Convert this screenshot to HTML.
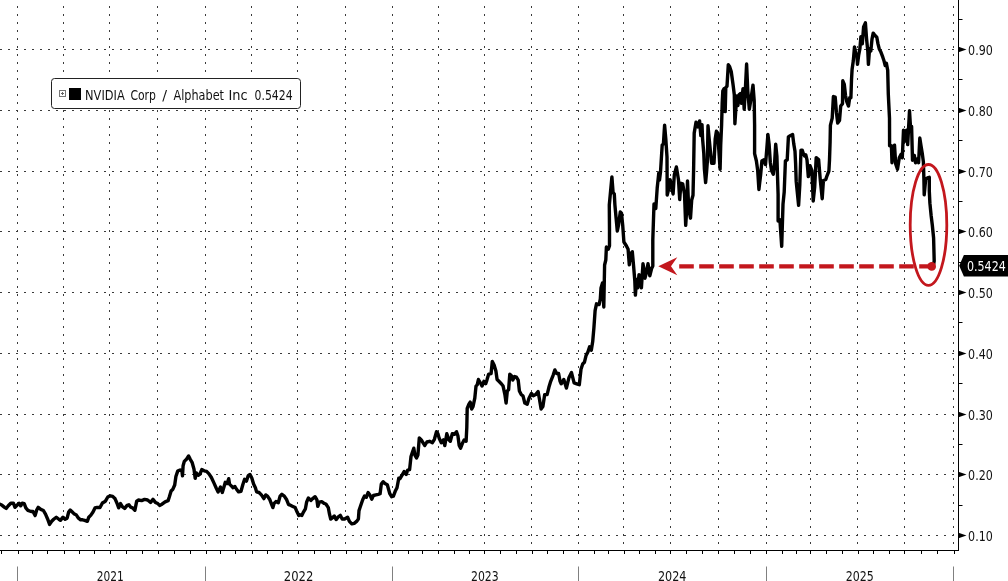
<!DOCTYPE html><html><head><meta charset="utf-8"><title>NVIDIA Corp / Alphabet Inc</title><style>
html,body{margin:0;padding:0;background:#fff;}body{width:1008px;height:581px;overflow:hidden;position:relative;}
svg{position:absolute;left:0;top:0;display:block;}
text{font-family:"DejaVu Sans","Liberation Sans",sans-serif;font-stretch:condensed;}
</style></head><body>
<svg width="1008" height="581" viewBox="0 0 1008 581">
<rect width="1008" height="581" fill="#fff"/>
<g stroke="#3a3a3a" stroke-width="1" fill="none"><line x1="17.5" y1="0" x2="17.5" y2="550" stroke-dasharray="2 6" stroke-dashoffset="2"/><line x1="63.5" y1="0" x2="63.5" y2="550" stroke-dasharray="2 6" stroke-dashoffset="2"/><line x1="109.5" y1="0" x2="109.5" y2="550" stroke-dasharray="2 6" stroke-dashoffset="2"/><line x1="157.5" y1="0" x2="157.5" y2="550" stroke-dasharray="2 6" stroke-dashoffset="2"/><line x1="205.5" y1="0" x2="205.5" y2="550" stroke-dasharray="2 6" stroke-dashoffset="2"/><line x1="251.5" y1="0" x2="251.5" y2="550" stroke-dasharray="2 6" stroke-dashoffset="2"/><line x1="297.5" y1="0" x2="297.5" y2="550" stroke-dasharray="2 6" stroke-dashoffset="2"/><line x1="345.5" y1="0" x2="345.5" y2="550" stroke-dasharray="2 6" stroke-dashoffset="2"/><line x1="392.5" y1="0" x2="392.5" y2="550" stroke-dasharray="2 6" stroke-dashoffset="2"/><line x1="438.5" y1="0" x2="438.5" y2="550" stroke-dasharray="2 6" stroke-dashoffset="2"/><line x1="484.5" y1="0" x2="484.5" y2="550" stroke-dasharray="2 6" stroke-dashoffset="2"/><line x1="531.5" y1="0" x2="531.5" y2="550" stroke-dasharray="2 6" stroke-dashoffset="2"/><line x1="578.5" y1="0" x2="578.5" y2="550" stroke-dasharray="2 6" stroke-dashoffset="2"/><line x1="623.5" y1="0" x2="623.5" y2="550" stroke-dasharray="2 6" stroke-dashoffset="2"/><line x1="670.5" y1="0" x2="670.5" y2="550" stroke-dasharray="2 6" stroke-dashoffset="2"/><line x1="718.5" y1="0" x2="718.5" y2="550" stroke-dasharray="2 6" stroke-dashoffset="2"/><line x1="766.5" y1="0" x2="766.5" y2="550" stroke-dasharray="2 6" stroke-dashoffset="2"/><line x1="810.5" y1="0" x2="810.5" y2="550" stroke-dasharray="2 6" stroke-dashoffset="2"/><line x1="857.5" y1="0" x2="857.5" y2="550" stroke-dasharray="2 6" stroke-dashoffset="2"/><line x1="904.5" y1="0" x2="904.5" y2="550" stroke-dasharray="2 6" stroke-dashoffset="2"/><line x1="953.5" y1="0" x2="953.5" y2="550" stroke-dasharray="2 6" stroke-dashoffset="2"/></g>
<g stroke="#3a3a3a" stroke-width="1" fill="none"><line x1="0" y1="49.5" x2="958" y2="49.5" stroke-dasharray="2 6"/><line x1="0" y1="110.5" x2="958" y2="110.5" stroke-dasharray="2 6"/><line x1="0" y1="171.5" x2="958" y2="171.5" stroke-dasharray="2 6"/><line x1="0" y1="231.5" x2="958" y2="231.5" stroke-dasharray="2 6"/><line x1="0" y1="292.5" x2="958" y2="292.5" stroke-dasharray="2 6"/><line x1="0" y1="353.5" x2="958" y2="353.5" stroke-dasharray="2 6"/><line x1="0" y1="414.5" x2="958" y2="414.5" stroke-dasharray="2 6"/><line x1="0" y1="474.5" x2="958" y2="474.5" stroke-dasharray="2 6"/><line x1="0" y1="535.5" x2="958" y2="535.5" stroke-dasharray="2 6"/></g>
<path d="M1.5 551V554M18.5 551V554M32.5 551V554M47.5 551V554M64.5 551V554M79.5 551V554M94.5 551V554M110.5 551V554M126.5 551V554M142.5 551V554M158.5 551V554M174.5 551V554M190.5 551V554M206.5 551V554M220.5 551V554M235.5 551V554M252.5 551V554M267.5 551V554M282.5 551V554M298.5 551V554M314.5 551V554M330.5 551V554M346.5 551V554M361.5 551V554M377.5 551V554M392.5 551V554M408.5 551V554M422.5 551V554M438.5 551V554M454.5 551V554M469.5 551V554M484.5 551V554M500.5 551V554M516.5 551V554M532.5 551V554M547.5 551V554M563.5 551V554M578.5 551V554M594.5 551V554M608.5 551V554M624.5 551V554M639.5 551V554M655.5 551V554M670.5 551V554M686.5 551V554M702.5 551V554M718.5 551V554M734.5 551V554M750.5 551V554M766.5 551V554M782.5 551V554M796.5 551V554M810.5 551V554M826.5 551V554M842.5 551V554M858.5 551V554M873.5 551V554M889.5 551V554M904.5 551V554M921.5 551V554M937.5 551V554M954.5 551V554" stroke="#000" stroke-width="1" fill="none"/>
<g stroke="#808080" stroke-width="1"><line x1="17.5" y1="566.5" x2="17.5" y2="581"/><line x1="205.5" y1="566.5" x2="205.5" y2="581"/><line x1="392.5" y1="566.5" x2="392.5" y2="581"/><line x1="578.5" y1="566.5" x2="578.5" y2="581"/><line x1="766.5" y1="566.5" x2="766.5" y2="581"/><line x1="953.5" y1="566.5" x2="953.5" y2="581"/></g>
<g font-size="13.7" fill="#111"><text x="96.74" y="581.2" textLength="26.96" lengthAdjust="spacingAndGlyphs">2021</text><text x="283.86" y="581.2" textLength="29.51" lengthAdjust="spacingAndGlyphs">2022</text><text x="471.02" y="581.2" textLength="27.69" lengthAdjust="spacingAndGlyphs">2023</text><text x="657.99" y="581.2" textLength="28.52" lengthAdjust="spacingAndGlyphs">2024</text><text x="845.81" y="581.2" textLength="28.0" lengthAdjust="spacingAndGlyphs">2025</text></g>
<path d="M958.5 0V551.0M0 550.5H959.0" stroke="#000" stroke-width="1" fill="none"/>
<path d="M958.5 532.7L966.5 535.5L958.5 538.3ZM958.5 471.7L966.5 474.5L958.5 477.3ZM958.5 411.7L966.5 414.5L958.5 417.3ZM958.5 350.7L966.5 353.5L958.5 356.3ZM958.5 289.7L966.5 292.5L958.5 295.3ZM958.5 228.7L966.5 231.5L958.5 234.3ZM958.5 168.7L966.5 171.5L958.5 174.3ZM958.5 107.7L966.5 110.5L958.5 113.3ZM958.5 46.7L966.5 49.5L958.5 52.3Z" fill="#000"/>
<path d="M959 505.5H962.5M959 444.5H962.5M959 383.5H962.5M959 322.5H962.5M959 262.5H962.5M959 201.5H962.5M959 140.5H962.5M959 79.5H962.5M959 19.5H962.5" stroke="#000" stroke-width="1"/>
<g font-size="13.7" fill="#111"><text x="968.1" y="541.1" textLength="24.7" lengthAdjust="spacingAndGlyphs">0.10</text><text x="968.1" y="480.1" textLength="24.7" lengthAdjust="spacingAndGlyphs">0.20</text><text x="968.1" y="420.1" textLength="24.7" lengthAdjust="spacingAndGlyphs">0.30</text><text x="968.1" y="359.1" textLength="24.7" lengthAdjust="spacingAndGlyphs">0.40</text><text x="968.1" y="298.1" textLength="24.7" lengthAdjust="spacingAndGlyphs">0.50</text><text x="968.1" y="237.1" textLength="24.7" lengthAdjust="spacingAndGlyphs">0.60</text><text x="968.1" y="177.1" textLength="24.7" lengthAdjust="spacingAndGlyphs">0.70</text><text x="968.1" y="116.1" textLength="24.7" lengthAdjust="spacingAndGlyphs">0.80</text><text x="968.1" y="55.1" textLength="24.7" lengthAdjust="spacingAndGlyphs">0.90</text></g>
<path d="M0.0 504.2 L2.1 505.3 L4.6 507.3 L6.2 508.4 L8.3 505.8 L10.8 503.2 L13.4 503.2 L15.0 507.3 L17.0 505.3 L19.1 503.2 L20.7 505.8 L22.2 503.2 L24.3 503.7 L25.8 507.9 L27.9 510.4 L31.0 511.5 L33.0 511.5 L35.1 515.6 L36.7 510.0 L38.2 507.4 L40.8 509.4 L43.4 510.5 L45.5 514.1 L47.5 518.7 L49.6 524.4 L51.7 521.3 L53.7 519.3 L56.3 517.2 L58.9 519.3 L60.4 520.3 L63.0 517.2 L65.1 519.3 L67.1 518.2 L68.7 512.0 L70.2 510.0 L72.3 512.0 L74.4 514.1 L76.4 515.1 L78.5 518.2 L80.6 519.8 L82.6 519.8 L84.7 520.3 L87.3 521.3 L88.8 517.2 L90.9 515.1 L93.0 512.0 L95.0 507.9 L97.1 507.4 L100.0 507.5 L102.4 503.0 L105.4 501.2 L107.8 497.0 L110.2 495.8 L112.7 496.4 L115.1 498.8 L116.9 503.0 L118.7 507.8 L120.5 503.6 L122.3 506.6 L124.7 508.4 L127.1 505.4 L128.9 504.8 L130.7 507.2 L132.5 507.8 L134.9 510.2 L136.7 501.2 L138.6 500.0 L141.6 500.6 L144.6 499.4 L147.6 500.0 L150.6 502.4 L153.0 499.4 L155.4 502.4 L157.8 503.6 L159.6 505.4 L162.0 504.2 L165.1 501.8 L168.1 500.6 L169.3 497.0 L171.1 491.0 L172.9 489.2 L174.7 485.0 L175.9 476.5 L177.7 471.1 L180.1 469.9 L181.9 471.1 L182.5 475.9 L183.1 465.7 L184.3 461.4 L186.7 459.0 L188.6 456.0 L190.4 459.6 L192.2 462.7 L194.0 469.3 L195.2 478.3 L196.4 472.9 L198.2 475.3 L200.0 474.0 L201.8 469.6 L204.2 470.8 L206.6 471.4 L209.0 473.9 L211.4 477.5 L213.9 482.9 L216.3 488.3 L218.1 491.9 L220.5 487.1 L222.3 492.5 L224.1 486.5 L225.3 482.3 L227.1 483.5 L228.7 478.7 L229.5 484.1 L231.3 485.9 L233.1 487.7 L234.9 486.5 L236.7 489.5 L238.6 491.9 L241.0 491.3 L242.8 484.7 L244.6 479.3 L246.4 481.1 L248.2 475.7 L250.0 474.5 L251.8 478.1 L253.6 484.1 L255.4 487.7 L256.6 491.9 L259.0 492.5 L261.4 494.9 L263.9 498.6 L265.7 494.9 L267.5 496.1 L269.9 499.8 L271.7 504.6 L272.9 507.6 L274.1 503.4 L275.9 501.6 L278.3 502.8 L280.1 496.1 L281.9 494.3 L284.3 496.1 L286.7 499.8 L288.6 504.6 L290.4 505.2 L292.8 506.4 L295.2 507.6 L297.0 511.8 L298.8 515.4 L300.0 514.8 L301.8 515.4 L303.6 511.8 L305.4 508.8 L306.6 502.2 L308.4 498.0 L310.8 500.4 L312.7 498.6 L315.1 496.7 L316.9 499.8 L317.8 506.4 L319.3 502.2 L321.7 501.6 L324.1 503.4 L325.9 504.0 L328.3 507.6 L329.5 514.2 L330.7 519.0 L332.5 517.8 L334.3 516.0 L336.1 519.6 L338.0 517.2 L340.4 515.4 L342.2 519.0 L344.6 519.0 L347.6 517.2 L349.4 521.4 L351.8 523.9 L354.2 523.3 L356.6 521.4 L358.4 519.0 L359.0 510.6 L360.8 505.2 L362.7 499.8 L364.5 496.1 L366.3 497.3 L368.1 492.5 L369.9 494.9 L371.7 499.2 L373.5 495.5 L375.9 494.9 L378.3 494.3 L380.1 493.7 L381.3 484.1 L383.1 481.7 L384.9 483.5 L387.3 484.7 L389.8 493.7 L391.6 496.7 L393.4 496.1 L395.2 491.3 L397.0 487.7 L398.8 478.1 L400.0 478.5 L402.1 475.1 L404.1 471.6 L406.2 474.4 L407.6 470.2 L409.6 469.6 L411.0 456.5 L412.4 452.3 L413.8 448.2 L414.9 455.1 L416.5 457.9 L417.9 455.1 L419.3 437.9 L421.3 439.9 L423.4 443.4 L424.8 445.5 L426.9 442.0 L429.6 441.3 L432.4 442.7 L434.4 439.3 L436.5 431.7 L437.9 433.7 L439.3 438.6 L441.3 442.7 L443.4 439.9 L444.8 445.5 L446.8 433.7 L448.9 439.9 L450.3 441.3 L452.3 433.7 L454.4 434.4 L456.5 431.7 L457.9 435.8 L459.2 445.5 L460.6 448.2 L462.7 442.7 L464.1 439.9 L466.1 441.3 L466.8 427.5 L467.2 408.3 L468.9 404.1 L470.2 402.1 L471.6 409.0 L473.0 406.7 L474.8 398.2 L476.0 386.1 L477.2 384.9 L478.4 379.5 L480.2 382.5 L482.0 386.1 L483.9 381.3 L485.7 383.7 L486.9 380.1 L488.7 374.1 L491.1 373.5 L492.3 361.4 L494.1 365.1 L495.9 371.1 L497.1 379.5 L498.9 381.3 L501.3 383.7 L503.1 386.1 L504.9 394.6 L506.1 403.0 L507.3 391.0 L508.6 389.8 L509.8 374.1 L511.6 375.9 L512.8 380.1 L514.6 376.5 L516.4 377.1 L518.2 380.1 L519.4 391.0 L521.2 394.6 L523.0 395.8 L524.8 403.0 L527.2 404.2 L529.0 398.2 L531.4 393.4 L533.3 395.8 L535.7 394.6 L538.1 391.6 L539.3 398.2 L541.1 409.0 L542.9 406.6 L544.7 394.6 L547.1 394.6 L548.9 387.3 L550.7 381.3 L553.1 375.3 L554.9 369.9 L556.7 373.5 L558.6 373.5 L560.0 381.0 L561.2 383.8 L563.8 379.5 L566.4 388.1 L568.9 377.8 L571.5 372.6 L574.1 382.9 L576.7 383.8 L579.3 384.7 L581.0 369.2 L582.7 364.0 L584.4 362.3 L586.1 355.4 L587.9 352.0 L589.6 346.8 L591.3 350.2 L592.7 341.6 L593.9 327.9 L595.1 310.7 L596.5 303.8 L599.1 304.6 L600.3 299.0 L601.0 288.0 L602.5 283.0 L603.8 307.0 L604.6 265.0 L605.8 260.0 L606.4 247.0 L608.3 249.3 L609.5 245.7 L609.5 230.0 L609.3 205.0 L611.9 177.0 L613.1 192.7 L614.3 193.9 L614.9 204.8 L616.1 218.0 L617.3 231.0 L618.5 225.2 L620.3 212.0 L621.5 213.2 L622.7 225.2 L623.9 242.0 L626.3 245.7 L628.1 249.3 L629.3 264.9 L630.5 254.1 L632.3 251.7 L633.6 266.1 L634.8 280.6 L635.4 295.1 L636.6 279.4 L637.8 287.8 L639.0 274.6 L640.2 275.8 L641.4 287.8 L643.0 263.7 L644.4 272.2 L645.0 278.2 L646.2 273.4 L648.0 263.7 L649.8 275.8 L651.6 268.6 L652.8 266.0 L652.8 240.0 L654.0 204.0 L655.8 208.5 L657.2 188.0 L658.8 173.0 L659.5 180.0 L660.5 172.0 L662.2 145.0 L663.4 144.0 L664.6 125.2 L665.8 139.0 L667.0 157.0 L667.2 195.0 L668.9 188.0 L670.1 179.6 L671.9 188.0 L673.1 194.0 L674.3 175.0 L676.4 167.0 L678.5 180.0 L679.7 199.5 L680.9 183.3 L682.7 183.9 L684.5 194.0 L685.7 225.4 L686.9 206.0 L687.5 181.0 L688.7 208.6 L690.5 218.2 L691.7 200.0 L693.0 195.3 L693.6 170.0 L694.2 133.1 L696.0 122.2 L697.8 127.0 L699.6 121.0 L700.8 135.5 L702.0 124.6 L702.6 139.1 L703.8 153.6 L704.4 169.2 L705.6 182.5 L706.6 171.6 L707.4 160.8 L708.0 125.8 L709.2 139.1 L710.4 151.1 L711.6 163.2 L714.0 163.2 L715.2 139.1 L716.4 131.3 L717.7 133.1 L718.9 151.1 L720.1 169.2 L720.7 145.1 L721.6 125.0 L722.2 103.2 L722.8 91.1 L724.0 88.7 L725.2 111.6 L725.8 87.5 L727.0 86.3 L728.3 64.6 L729.5 66.4 L731.3 71.9 L733.1 85.1 L734.3 94.8 L734.9 123.7 L736.7 96.0 L737.9 105.6 L739.1 94.8 L740.3 93.6 L741.5 103.2 L743.0 88.7 L744.2 109.2 L745.4 88.7 L746.6 64.0 L747.8 91.1 L749.3 109.2 L750.9 99.6 L753.0 85.1 L754.2 100.8 L754.6 125.0 L754.6 153.7 L756.4 161.0 L757.7 170.6 L758.9 189.5 L760.7 174.2 L761.9 161.0 L763.7 159.8 L765.5 164.6 L766.7 150.1 L767.9 134.5 L769.1 144.1 L770.3 162.2 L771.5 170.6 L773.3 174.2 L774.5 164.6 L775.7 144.1 L776.9 156.1 L777.8 185.0 L778.1 194.5 L778.1 221.0 L779.9 219.8 L781.7 246.3 L783.0 204.1 L784.2 192.0 L785.4 161.0 L787.2 159.8 L788.4 136.9 L790.2 135.7 L792.6 134.5 L793.8 144.1 L795.0 151.3 L795.6 163.4 L796.2 181.4 L798.6 205.3 L799.8 185.0 L801.0 150.1 L802.2 150.1 L803.4 153.7 L804.6 156.1 L805.8 154.9 L807.0 159.8 L808.3 176.6 L810.1 165.8 L811.9 170.6 L813.2 201.0 L814.7 186.7 L816.2 157.7 L818.6 159.5 L820.3 180.2 L822.2 198.7 L823.4 180.6 L825.8 179.4 L827.0 175.8 L828.9 171.0 L829.5 160.1 L830.1 142.0 L830.4 125.4 L832.2 118.2 L833.4 96.5 L835.2 97.1 L836.4 112.2 L837.7 123.0 L839.5 120.6 L840.7 106.1 L842.5 103.7 L842.8 80.8 L844.3 84.5 L845.5 95.3 L846.7 101.3 L848.5 106.1 L849.7 97.7 L850.9 97.7 L851.5 80.0 L852.1 69.2 L853.3 60.8 L854.5 46.9 L855.7 53.6 L856.9 54.8 L857.5 64.4 L858.7 54.8 L859.9 48.7 L860.9 36.7 L862.3 43.9 L863.6 27.0 L865.4 22.8 L866.6 39.1 L867.8 51.1 L868.4 64.4 L869.6 48.7 L870.8 51.1 L872.0 39.1 L873.2 33.1 L875.0 35.5 L876.8 37.3 L878.0 43.9 L879.2 48.7 L881.0 52.3 L882.8 57.2 L884.0 60.8 L885.2 65.6 L886.4 63.2 L887.7 70.4 L888.3 94.1 L889.5 118.2 L889.6 145.8 L891.4 145.8 L892.0 162.7 L893.3 148.2 L894.5 145.2 L895.7 163.9 L897.5 169.3 L899.3 157.8 L901.1 154.2 L902.3 157.8 L903.5 130.1 L905.3 141.0 L906.5 130.1 L907.7 144.6 L909.5 110.8 L910.7 130.1 L911.6 126.5 L912.5 160.2 L914.3 155.4 L915.5 162.7 L917.3 159.0 L918.6 162.7 L919.8 138.0 L921.0 145.8 L922.2 153.0 L923.4 162.0 L923.9 179.1 L924.2 194.8 L925.7 179.1 L927.5 177.9 L929.3 177.3 L929.3 191.1 L929.9 203.2 L931.1 215.2 L932.3 225.0 L933.6 238.0 L934.2 261.0 L933.5 265.0" fill="none" stroke="#000" stroke-width="3.4" stroke-linejoin="round" stroke-linecap="round"/>
<ellipse cx="928.5" cy="224.9" rx="18.3" ry="60.4" fill="none" stroke="#c3171d" stroke-width="2.8"/>
<line x1="679.2" y1="266.4" x2="930" y2="266.4" stroke="#c3171d" stroke-width="4.4" stroke-dasharray="14.6 5.4"/>
<path d="M658.3 266.2L677.3 257.2L671 266.2L677.3 275.3Z" fill="#c3171d"/>
<circle cx="931.7" cy="266.4" r="4.3" fill="#c3171d"/>
<path d="M959.2 265.8L963.9 255H1008V276.6H963.9Z" fill="#000"/>
<text x="967" y="271.2" font-size="13.7" fill="#fff" textLength="38.77" lengthAdjust="spacingAndGlyphs">0.5424</text>
<rect x="51.5" y="78.5" width="249" height="30" rx="3" ry="3" fill="#fff" stroke="#222" stroke-width="1"/>
<rect x="59.5" y="90.5" width="6" height="6" fill="none" stroke="#777" stroke-width="1"/>
<path d="M61 93.5H64M62.5 92V95" stroke="#666" stroke-width="1"/>
<rect x="69" y="88" width="12" height="12" fill="#000"/>
<g font-size="13.7" fill="#111"><text x="85.07" y="100.2" textLength="39.64" lengthAdjust="spacingAndGlyphs">NVIDIA</text><text x="130.4" y="100.2" textLength="25.51" lengthAdjust="spacingAndGlyphs">Corp</text><text x="162.3" y="100.2" textLength="4.8" lengthAdjust="spacingAndGlyphs">/</text><text x="173.5" y="100.2" textLength="50.53" lengthAdjust="spacingAndGlyphs">Alphabet</text><text x="228.55" y="100.2" textLength="19.18" lengthAdjust="spacingAndGlyphs">Inc</text><text x="254.5" y="100.2" textLength="38.07" lengthAdjust="spacingAndGlyphs">0.5424</text></g>
</svg></body></html>
